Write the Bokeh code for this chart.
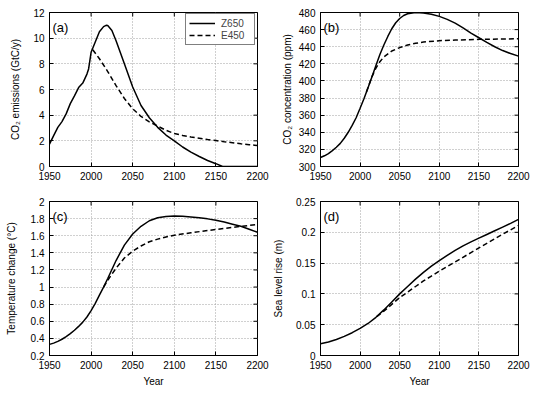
import math
from bokeh.plotting import figure
from bokeh.layouts import gridplot
from bokeh.models import Range1d, FixedTicker, CustomJSTickFormatter, Label
from bokeh.embed import file_html
from bokeh.resources import INLINE

FONT = "Liberation Sans"

# ---------------- data ----------------
x_ticks = [1950, 2000, 2050, 2100, 2150, 2200]
series_names = ["Z650", "E450"]

# (a) CO2 emissions (GtC/y)
em_z_years = [1950, 1955, 1960, 1965, 1970, 1975, 1980, 1985, 1990, 1995, 1997, 2000, 2005, 2010,
              2015, 2018, 2020, 2025, 2030, 2040, 2050, 2060, 2070, 2080, 2090, 2100, 2110, 2120,
              2130, 2140, 2150, 2158, 2200]
em_z_vals = [1.75, 2.4, 3.05, 3.5, 4.1, 4.9, 5.5, 6.15, 6.5, 7.2, 7.6, 8.9, 9.7, 10.5,
             10.9, 11.0, 10.98, 10.6, 9.8, 8.0, 6.2, 4.75, 3.8, 3.05, 2.45, 2.0, 1.52, 1.12,
             0.78, 0.47, 0.22, 0.0, 0.0]
em_e_years = [2002, 2010, 2020, 2030, 2040, 2050, 2060, 2070, 2077, 2090, 2100, 2110, 2120, 2130,
              2140, 2150, 2160, 2170, 2180, 2190, 2200]
em_e_vals = [9.1, 8.4, 7.4, 6.3, 5.3, 4.5, 3.9, 3.47, 3.25, 2.82, 2.57, 2.42, 2.3, 2.2,
             2.1, 2.02, 1.93, 1.85, 1.77, 1.7, 1.63]
em_ticks = [0, 2, 4, 6, 8, 10, 12]

# (b) CO2 concentration (ppm)
co2_z_years = [1950, 1955, 1960, 1965, 1970, 1975, 1980, 1985, 1990, 1995, 2000, 2005, 2010,
               2015, 2020, 2025, 2030, 2035, 2040, 2045, 2050, 2055, 2060, 2070,
               2080, 2090, 2100, 2110, 2120, 2130, 2140, 2150, 2160, 2170, 2180, 2190, 2200]
co2_z_vals = [310.5, 312.5, 315, 318.5, 322.5, 327, 333, 340, 348, 357, 368, 379.5, 392,
              405, 418, 431, 442, 452, 461, 468, 473, 476.5, 478.5, 480,
              479.5, 478, 475.5, 472, 467.5, 462, 456, 450.5, 445, 440, 435.5, 432, 429]
co2_e_years = [2008, 2015, 2020, 2025, 2030, 2040, 2050, 2060, 2070, 2080, 2100, 2120, 2150, 2200]
co2_e_vals = [387, 405, 415, 422.5, 428, 435, 439, 442, 444, 445.5, 447, 447.8, 448.6, 449.3]
co2_ticks = [300, 320, 340, 360, 380, 400, 420, 440, 460, 480]

# (c) Temperature change (degC)
t_z_years = [1950, 1955, 1960, 1965, 1970, 1975, 1980, 1985, 1990, 1995, 2000, 2005, 2010, 2015,
             2020, 2030, 2040, 2050, 2060, 2070, 2080, 2090, 2100, 2110, 2120, 2130, 2140, 2150,
             2160, 2170, 2180, 2190, 2200]
t_z_vals = [0.33, 0.345, 0.365, 0.39, 0.42, 0.455, 0.495, 0.54, 0.59, 0.65, 0.725, 0.81, 0.905, 1.0,
            1.1, 1.31, 1.49, 1.62, 1.71, 1.775, 1.81, 1.825, 1.83, 1.828, 1.82, 1.81, 1.797, 1.78,
            1.76, 1.735, 1.71, 1.675, 1.64]
t_e_years = [2015, 2020, 2030, 2040, 2050, 2060, 2070, 2080, 2090, 2100, 2120, 2140, 2160, 2180, 2200]
t_e_vals = [1.0, 1.08, 1.22, 1.34, 1.42, 1.48, 1.53, 1.56, 1.585, 1.605, 1.635, 1.66, 1.685, 1.71, 1.73]
t_ticks = [0.2, 0.4, 0.6, 0.8, 1.0, 1.2, 1.4, 1.6, 1.8, 2.0]

# (d) Sea level rise (m)
sl_z_years = [1950, 1960, 1970, 1980, 1990, 2000, 2010, 2020, 2030, 2040, 2050, 2060, 2070, 2080,
              2090, 2100, 2110, 2120, 2130, 2140, 2150, 2160, 2170, 2180, 2190, 2200]
sl_z_vals = [0.019, 0.022, 0.026, 0.031, 0.037, 0.044, 0.052, 0.062, 0.074, 0.087, 0.1, 0.112,
             0.124, 0.135, 0.145, 0.154, 0.1625, 0.1705, 0.178, 0.1845, 0.1905, 0.1965, 0.2025,
             0.2085, 0.2145, 0.221]
sl_e_years = [2021, 2030, 2040, 2050, 2060, 2070, 2080, 2090, 2100, 2120, 2140, 2160, 2180, 2200]
sl_e_vals = [0.063, 0.072, 0.083, 0.094, 0.103, 0.112, 0.121, 0.129, 0.137, 0.152, 0.167, 0.182,
             0.197, 0.211]
sl_ticks = [0, 0.05, 0.1, 0.15, 0.2, 0.25]

# ---------------- helpers ----------------
fmt_code = "return String(Math.round(tick * 1000) / 1000);"


def style_axis(ax, ticks):
    ax.ticker = FixedTicker(ticks=ticks)
    ax.axis_line_color = "black"
    ax.major_tick_line_color = "black"
    ax.major_tick_in = 4
    ax.major_tick_out = 0
    ax.minor_tick_line_color = None
    ax.formatter = CustomJSTickFormatter(code=fmt_code)
    ax.major_label_text_font = FONT
    ax.major_label_text_font_size = "10px"
    ax.major_label_text_color = "black"
    ax.major_label_standoff = 5
    ax.axis_label_text_font = FONT
    ax.axis_label_text_font_size = "10px"
    ax.axis_label_text_font_style = "normal"
    ax.axis_label_text_color = "black"


def panel(w, h, bl, br, bt, bb, yticks, ylabel, ylab_so, letter, xlabel,
          z_x, z_y, e_x, e_y, legend=False):
    x0, x1 = x_ticks[0], x_ticks[-1]
    y0, y1 = yticks[0], yticks[-1]
    p = figure(width=w, height=h, output_backend="svg", toolbar_location=None,
               x_range=Range1d(x0, x1), y_range=Range1d(y0, y1),
               min_border_left=bl, min_border_right=br, min_border_top=bt, min_border_bottom=bb,
               background_fill_color="white", border_fill_color="white")
    p.outline_line_color = "black"
    p.outline_line_width = 1
    style_axis(p.xaxis[0], x_ticks)
    style_axis(p.yaxis[0], yticks)
    p.yaxis[0].axis_label = ylabel
    p.yaxis[0].axis_label_standoff = ylab_so
    if xlabel:
        p.xaxis[0].axis_label = xlabel
        p.xaxis[0].axis_label_standoff = 4
    for g in p.grid:
        g.grid_line_color = "#a0a0a0"
        g.grid_line_dash = "1 2"
        g.grid_line_width = 1
    p.xgrid.ticker = FixedTicker(ticks=x_ticks)
    p.ygrid.ticker = FixedTicker(ticks=yticks)
    # mirrored inward ticks on the top and right frame edges (half of each dash is clipped)
    p.scatter(x_ticks, [y1] * len(x_ticks), marker="dash", size=8, angle=math.pi / 2,
              line_color="black", line_width=1)
    p.scatter([x1] * len(yticks), yticks, marker="dash", size=8,
              line_color="black", line_width=1)
    if legend:
        p.line(z_x, z_y, line_color="black", line_width=1.5, legend_label=series_names[0])
        p.line(e_x, e_y, line_color="black", line_width=1.5, line_dash="5 3",
               legend_label=series_names[1])
        lg = p.legend[0]
        lg.location = (136, 121)
        lg.border_line_color = "black"
        lg.border_line_width = 1
        lg.background_fill_alpha = 1
        lg.label_text_font = FONT
        lg.label_text_font_size = "10px"
        lg.glyph_width = 26
        lg.glyph_height = 12
        lg.label_height = 12
        lg.label_width = 30
        lg.label_standoff = 6
        lg.padding = 3
        lg.spacing = 0
        lg.margin = 0
    else:
        p.line(z_x, z_y, line_color="black", line_width=1.5)
        p.line(e_x, e_y, line_color="black", line_width=1.5, line_dash="5 3")
    p.add_layout(Label(x=x0, y=y1, x_offset=3, y_offset=-14.5, text=letter,
                       text_font=FONT, text_font_size="13px", text_baseline="alphabetic",
                       text_color="black"))
    return p


pa = panel(270, 190, 49, 13, 12, 24, em_ticks,
           "CO\u2082 emissions (GtC/y)", 9, "(a)", None,
           em_z_years, em_z_vals, em_e_years, em_e_vals, legend=True)
pb = panel(269, 190, 41, 21, 12, 24, co2_ticks,
           "CO\u2082 concentration (ppm)", 3, "(b)", None,
           co2_z_years, co2_z_vals, co2_e_years, co2_e_vals)
pc = panel(270, 202, 49, 13, 11, 37, t_ticks,
           "Temperature change (\u00b0C)", 11, "(c)", "Year",
           t_z_years, t_z_vals, t_e_years, t_e_vals)
pd = panel(269, 202, 41, 21, 11, 37, sl_ticks,
           "Sea level rise (m)", 9, "(d)", "Year",
           sl_z_years, sl_z_vals, sl_e_years, sl_e_vals)

grid = gridplot([[pa, pb], [pc, pd]], toolbar_location=None)

open("out.html", "w").write(file_html(grid, INLINE))
